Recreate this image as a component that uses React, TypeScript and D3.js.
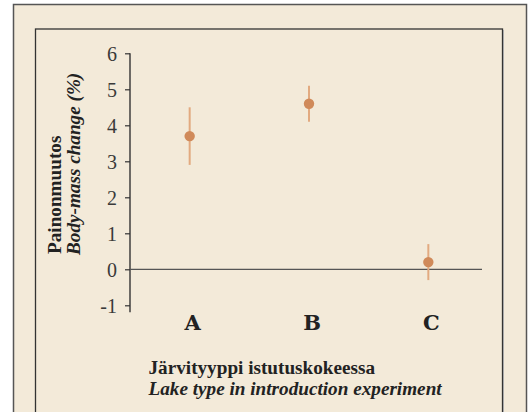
import React, { useEffect, useRef } from 'react';
import * as d3 from 'd3';

const categories = ['A', 'B', 'C'];
const means = [3.7, 4.6, 0.2];
const upper = [4.5, 5.1, 0.7];
const lower = [2.9, 4.1, -0.3];
const yTicks = [-1, 0, 1, 2, 3, 4, 5, 6];

const W = 531;
const H = 412;
const SERIF = '"Liberation Serif", "Times New Roman", serif';

const App = () => {
  const svgRef = useRef(null);

  useEffect(() => {
    const svg = d3.select(svgRef.current);
    svg.selectAll('*').remove();

    // frames
    svg.append('rect')
      .attr('x', 13.5).attr('y', 4.5).attr('width', 513).attr('height', 420)
      .attr('fill', '#f3ead9').attr('stroke', '#555').attr('stroke-width', 1.5);
    svg.append('rect')
      .attr('x', 35.5).attr('y', 29).attr('width', 467).attr('height', 400)
      .attr('fill', 'none').attr('stroke', '#333').attr('stroke-width', 1.3);
    svg.append('line')
      .attr('x1', 503.5).attr('x2', 503.5).attr('y1', 30).attr('y2', 412)
      .attr('stroke', '#aaa').attr('stroke-width', 1);

    const y = d3.scaleLinear().domain([-1, 6]).range([305.3, 53.3]);
    const x = d3.scaleBand().domain(categories).range([130, 488]);
    const cx = (c) => x(c) + x.bandwidth() / 2;

    // y axis
    const axis = svg.append('g')
      .attr('transform', 'translate(130,0)')
      .call(d3.axisLeft(y).tickValues(yTicks).tickSize(5).tickPadding(8).tickFormat(d => String(d)));
    axis.attr('font-family', SERIF).attr('font-size', 20);
    axis.select('.domain').remove();
    axis.selectAll('.tick line').attr('stroke', '#333').attr('stroke-width', 1.2);
    axis.selectAll('.tick text').attr('fill', '#3a3a3a').attr('dy', '0.34em');
    axis.append('line')
      .attr('x1', 0).attr('x2', 0).attr('y1', y(6)).attr('y2', y(-1) + 7)
      .attr('stroke', '#333').attr('stroke-width', 1.4);

    // zero line
    svg.append('line')
      .attr('x1', 130).attr('x2', 482).attr('y1', y(0)).attr('y2', y(0))
      .attr('stroke', '#555').attr('stroke-width', 1.3);

    // error bars and points
    const g = svg.append('g');
    categories.forEach((c, i) => {
      g.append('line')
        .attr('x1', cx(c)).attr('x2', cx(c))
        .attr('y1', y(upper[i])).attr('y2', y(lower[i]))
        .attr('stroke', '#e2aa80').attr('stroke-width', 2);
      g.append('circle')
        .attr('cx', cx(c)).attr('cy', y(means[i])).attr('r', 5.2)
        .attr('fill', '#d08a5a');
    });

    // category labels
    svg.append('g').selectAll('text')
      .data(categories)
      .join('text')
      .attr('x', d => cx(d) + 3)
      .attr('y', 330)
      .attr('text-anchor', 'middle')
      .attr('font-family', '"DejaVu Serif", serif')
      .attr('font-weight', 'bold')
      .attr('font-size', 21)
      .attr('fill', '#222')
      .text(d => d);

    // x title
    const xt = svg.append('text')
      .attr('font-family', SERIF)
      .attr('font-weight', 'bold').attr('font-size', 19.2).attr('fill', '#222');
    xt.append('tspan').attr('x', 148.5).attr('y', 373.5).text('Järvityyppi istutuskokeessa');
    xt.append('tspan').attr('x', 148.5).attr('y', 395).attr('font-style', 'italic')
      .text('Lake type in introduction experiment');

    // y title
    const yt = svg.append('text')
      .attr('transform', 'rotate(-90)')
      .attr('font-family', SERIF)
      .attr('font-weight', 'bold').attr('font-size', 19.2).attr('fill', '#222');
    yt.append('tspan').attr('x', -254).attr('y', 61).text('Painonmuutos');
    yt.append('tspan').attr('x', -255).attr('y', 80).attr('font-style', 'italic')
      .text('Body-mass change (%)');
  }, []);

  return (
    <svg ref={svgRef} width={W} height={H}
      style={{ position: 'absolute', left: 0, top: 0, background: '#fff' }} />
  );
};

export default App;
